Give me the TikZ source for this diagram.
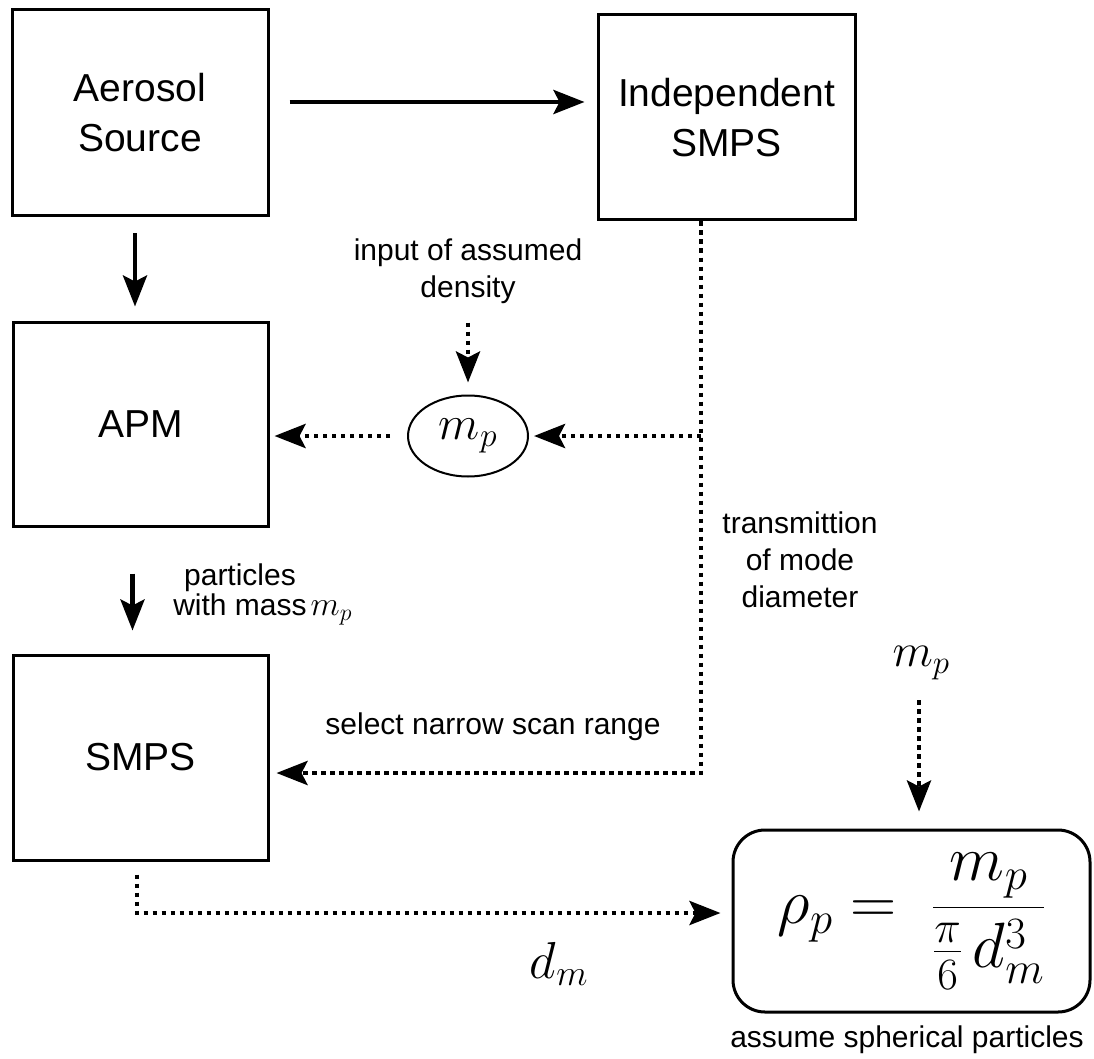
\RequirePackage{fix-cm}
\documentclass[tikz,border=0pt]{standalone}
\usepackage[no-math]{fontspec}
\newfontfamily\labelfont{Liberation Sans}
\usetikzlibrary{arrows.meta,shapes.geometric}

\tikzset{
  procbox/.style={draw, line width=3pt, rectangle, align=center, inner sep=0pt,
    font={\labelfont\fontsize{39}{50}\selectfont}},
  smalltext/.style={align=center, inner sep=0pt,
    font={\labelfont\fontsize{30}{37}\selectfont}},
  mathlabel/.style={inner sep=0pt, font={\fontsize{47}{56}\selectfont}},
  tipstyle/.style={-{Stealth[length=31pt,width=24pt,inset=6pt]}},
  solidarrow/.style={line width=4.5pt, tipstyle},
  dotarrow/.style={line width=4.5pt, dash pattern=on 4.5pt off 4.5pt, tipstyle}
}

\begin{document}
\begin{tikzpicture}[x=1pt,y=-1pt]
  \useasboundingbox (0,0) rectangle (1094,1059);

  % process boxes
  \node[procbox, minimum width=256pt, minimum height=206pt] (aero) at (140,113) {Aerosol\\Source};
  \node[procbox, minimum width=257pt, minimum height=205pt] (indep) at (726.5,117.5) {Independent\\SMPS};
  \node[procbox, minimum width=255pt, minimum height=204pt] (apm) at (140.5,424) {APM};
  \node[procbox, minimum width=255pt, minimum height=205pt] (smps) at (140.5,757.5) {SMPS};

  % mass estimate
  \node[ellipse, draw, line width=2pt, minimum width=120pt, minimum height=81pt, inner sep=0pt,
        font={\fontsize{48}{56}\selectfont}] (mp) at (468,436) {$m_p$};

  % density result
  \node[draw, line width=3pt, rounded corners=32pt, minimum width=357pt, minimum height=182pt,
        inner sep=0pt, font={\fontsize{64}{76}\selectfont}] (rho) at (911.5,921)
        {$\displaystyle\rho_p =\; \frac{m_p}{\frac{\pi}{6}\,d_m^3}$};

  % labels
  \node[smalltext] (lblDensity) at (468,271) {input of assumed\\density};
  \node[smalltext] (lblTrans) at (800,560) {transmittion\\of mode\\diameter};
  \node[smalltext, font={\labelfont\fontsize{30}{30}\selectfont}] (lblParticles) at (240,594)
        {particles\\with mass\rlap{\kern4pt\fontsize{34}{40}\selectfont$m_p$}};
  \node[smalltext] (lblSelect) at (493,727) {select narrow scan range};
  \node[smalltext] (lblAssume) at (907,1040) {assume spherical particles};
  \node[mathlabel] (lblMp) at (921,663) {$m_p$};
  \node[inner sep=0pt, font={\fontsize{52}{62}\selectfont}] (lblDm) at (559,964) {$d_m$};

  % routing points
  \coordinate (a1) at ([yshift=11pt]aero.east);
  \coordinate (a2) at ([xshift=-5pt]aero.south);
  \coordinate (a3) at ([xshift=-8pt]apm.south);
  \coordinate (j1) at (701,436);
  \coordinate (j2) at (701,773);
  \coordinate (c1) at (137,913);

  % solid flow
  \draw[solidarrow, shorten <=20pt, shorten >=12pt] (a1) -- (a1 -| indep.west);
  \draw[solidarrow, shorten <=16pt, shorten >=14pt] (a2) -- (a2 |- apm.north);
  \draw[solidarrow, shorten <=46pt, shorten >=23pt] (a3) -- (a3 |- smps.north);

  % dotted information flow
  \draw[dotarrow, shorten <=19pt, shorten >=12pt] (lblDensity.south) -- (mp.north);
  \draw[dotarrow, shorten >=7pt] (j1 |- indep.south) -- (j2) -- (j2 -| smps.east);
  \draw[dotarrow, shorten >=5pt] (j1) -- (mp);
  \draw[dotarrow, shorten <=17pt, shorten >=5pt] (mp.west) -- (mp.west -| apm.east);
  \draw[dotarrow, shorten <=13pt, shorten >=11pt] (c1 |- smps.south) -- (c1) -- (c1 -| rho.west);
  \draw[dotarrow, shorten <=20pt, shorten >=17pt] ([xshift=-2pt]lblMp.south) -- ([xshift=-2pt]lblMp.south |- rho.north);
\end{tikzpicture}
\end{document}
